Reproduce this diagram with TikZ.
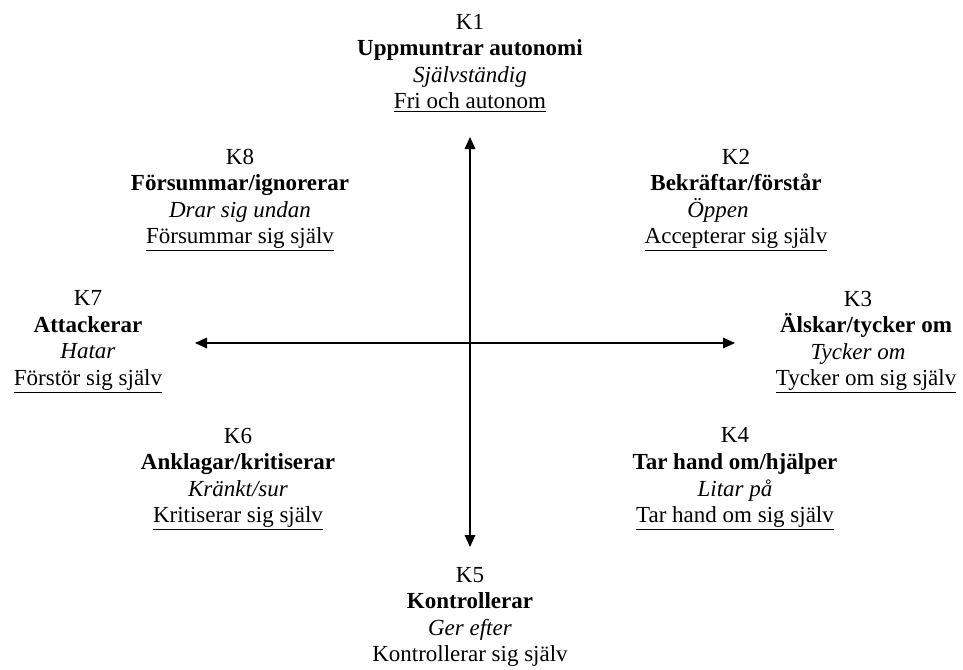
\documentclass[tikz,border=0pt]{standalone}
\usepackage{fontspec}
\setmainfont{Liberation Serif}
\usetikzlibrary{arrows.meta}
\begin{document}
\begin{tikzpicture}[x=0.75pt, y=-0.75pt,
  klass/.style={align=center, inner sep=0pt, font=\fontsize{17.25}{19.9}\selectfont},
  axel/.style={line width=0.8pt, {Triangle[length=9pt, width=8pt]}-{Triangle[length=9pt, width=8pt]}}]
\useasboundingbox (0,0) rectangle (963,669);
\node[klass] at (470,63) (K1) {K1\\\textbf{Uppmuntrar autonomi}\\\textit{Självständig}\\\underline{Fri och autonom}};
\node[klass] at (736,200) (K2) {K2\\\textbf{Bekräftar/förstår}\\\textit{Öppen}\rule{27pt}{0pt}\\\underline{Accepterar sig själv}};
\node[klass] at (866,342) (K3) {K3\rule{12pt}{0pt}\\\textbf{Älskar/tycker om}\\\textit{Tycker om}\rule{12pt}{0pt}\\\underline{Tycker om sig själv}};
\node[klass] at (735,479) (K4) {K4\\\textbf{Tar hand om/hjälper}\\\textit{Litar på}\\\underline{Tar hand om sig själv}};
\node[klass] at (470,617) (K5) {K5\\\textbf{Kontrollerar}\\\textit{Ger efter}\\Kontrollerar sig själv};
\node[klass] at (238,479) (K6) {K6\\\textbf{Anklagar/kritiserar}\\\textit{Kränkt/sur}\\\underline{Kritiserar sig själv}};
\node[klass] at (88,342) (K7) {K7\\\textbf{Attackerar}\\\textit{Hatar}\\\underline{Förstör sig själv}};
\node[klass] at (240,200) (K8) {K8\\\textbf{Försummar/ignorerar}\\\textit{Drar sig undan}\\\underline{Försummar sig själv}};
\node[shape=coordinate] at (470,137) (P1) {};
\node[shape=coordinate] at (470,547) (P2) {};
\node[shape=coordinate] at (195,343) (P3) {};
\node[shape=coordinate] at (735,343) (P4) {};
\draw[axel] (P1) -- (P2);
\draw[axel] (P3) -- (P4);
\end{tikzpicture}
\end{document}
